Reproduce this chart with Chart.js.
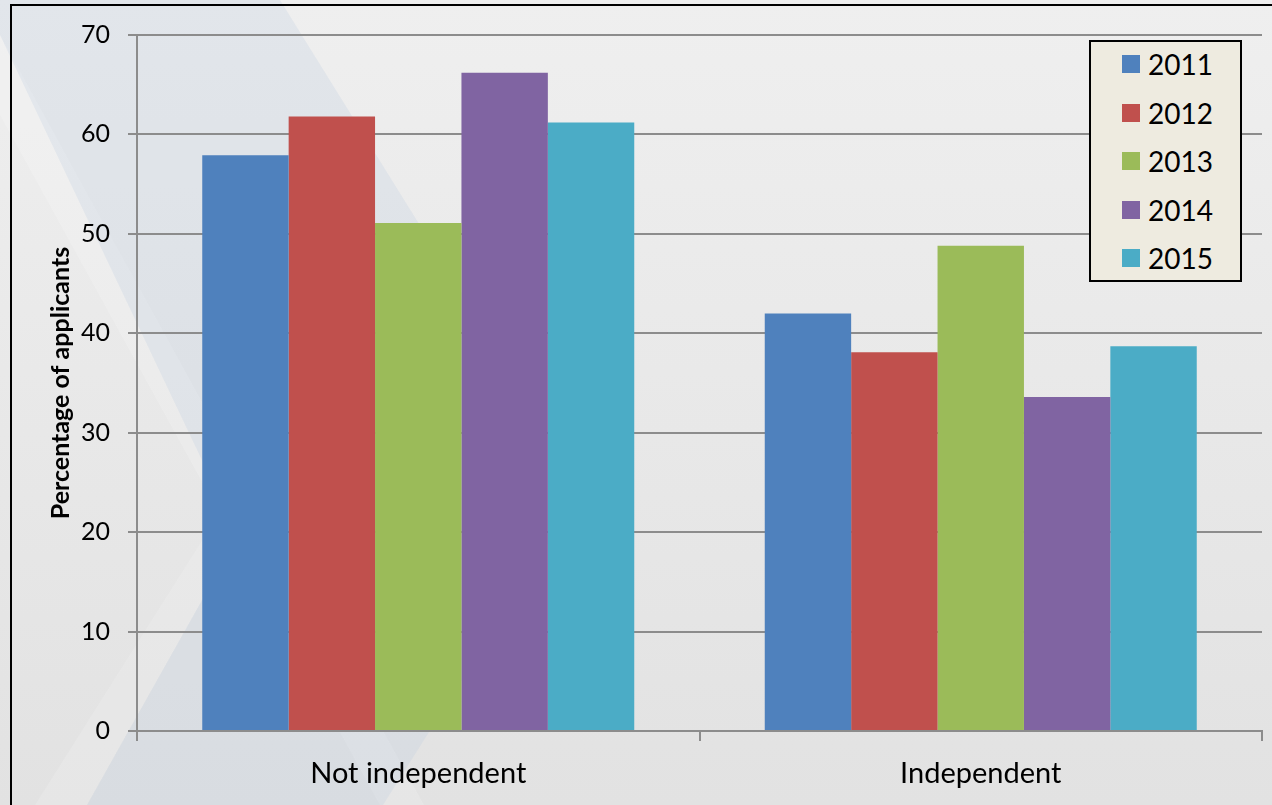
<!DOCTYPE html>
<html>
<head>
<meta charset="utf-8">
<script src="https://cdn.jsdelivr.net/npm/chart.js@4.4.0/dist/chart.umd.min.js"></script>
<style>
  html, body { margin: 0; overflow: hidden; background: #e8e8e8; }
  #wrap { position: relative; width: 1272px; height: 805px; overflow: hidden; }
  #chart { display: block; }
  #legend {
    position: absolute; left: 1089px; top: 40px; width: 149px; height: 238px;
    border: 2px solid #000; background: #eeebe0;
    font-family: Lato, sans-serif; font-size: 28px; color: #000;
  }
  #legend .row { position: absolute; left: 0; height: 48px; display: flex; align-items: center; }
  #legend .box { width: 18px; height: 18px; margin-left: 31px; margin-right: 8px; }
</style>
</head>
<body>
<div id="wrap">
  <canvas id="chart" width="1272" height="805"></canvas>
  <div id="legend"></div>
</div>
<script>
const categories = ['Not independent', 'Independent'];
const years = ['2011', '2012', '2013', '2014', '2015'];
const values2011 = [57.9, 42.0];
const values2012 = [61.8, 38.1];
const values2013 = [51.1, 48.8];
const values2014 = [66.2, 33.6];
const values2015 = [61.2, 38.7];
const yTicks = [0, 10, 20, 30, 40, 50, 60, 70];

const colors = ['#4f81bd', '#c0504d', '#9bbb59', '#8064a2', '#4bacc6'];
const series = [values2011, values2012, values2013, values2014, values2015];

// slide-style background behind the chart
const backdrop = {
  id: 'backdrop',
  beforeDraw(chart) {
    const c = chart.ctx;
    const w = chart.width, h = chart.height;
    c.save();
    const g = c.createLinearGradient(0, 0, 0, h);
    g.addColorStop(0, '#efefef');
    g.addColorStop(1, '#e2e2e2');
    c.fillStyle = g;
    c.fillRect(0, 0, w, h);

    const poly = (pts, fill) => {
      c.beginPath();
      c.moveTo(pts[0][0], pts[0][1]);
      for (let i = 1; i < pts.length; i++) c.lineTo(pts[i][0], pts[i][1]);
      c.closePath();
      c.fillStyle = fill;
      c.fill();
    };
    // faint light stripes on the left
    poly([[0, 35], [0, 115], [380, 805], [424, 805]], 'rgba(255,255,255,0.16)');
    poly([[35, 805], [87, 805], [238, 536], [215, 520]], 'rgba(255,255,255,0.14)');
    // bluish chevron band
    poly([[0, 0], [280, 0], [583, 488], [383, 805], [87, 805], [238, 536], [0, 35]], 'rgba(190,205,225,0.26)');

    // frame
    c.fillStyle = '#000';
    c.fillRect(10, 4, w - 10, 2);
    c.fillRect(10, 4, 2, h - 4);
    c.restore();
  }
};

const ctx = document.getElementById('chart');

new Chart(ctx, {
  type: 'bar',
  data: {
    labels: categories,
    datasets: years.map((y, i) => ({
      label: y,
      data: series[i],
      backgroundColor: colors[i],
      borderWidth: 0,
      barPercentage: 1,
      categoryPercentage: 0.768
    }))
  },
  options: {
    responsive: false,
    devicePixelRatio: 1,
    animation: false,
    layout: { padding: { left: 12, right: 10, top: 35, bottom: 0 } },
    plugins: {
      legend: { display: false },
      tooltip: { enabled: false }
    },
    scales: {
      x: {
        grid: {
          drawOnChartArea: false,
          drawTicks: true,
          tickLength: 10,
          color: '#8c8c8c',
          lineWidth: 2
        },
        border: { color: '#8c8c8c', width: 2 },
        ticks: {
          color: '#000',
          padding: 15,
          font: { family: 'Lato', size: 29 }
        },
        afterFit(scale) { scale.height = 74; }
      },
      y: {
        min: 0,
        max: 70,
        afterBuildTicks(scale) { scale.ticks = yTicks.map(v => ({ value: v })); },
        grid: {
          color: '#8c8c8c',
          lineWidth: 2,
          tickLength: 9
        },
        border: { color: '#8c8c8c', width: 2 },
        ticks: {
          color: '#000',
          padding: 18,
          font: { family: 'Lato', size: 25 }
        },
        title: {
          display: true,
          text: 'Percentage of applicants',
          color: '#000',
          padding: { top: 34, bottom: 0 },
          font: { family: 'Lato', size: 25, weight: 'bold' }
        },
        afterFit(scale) { scale.width = 125; }
      }
    }
  },
  plugins: [backdrop]
});

// legend box, built from the same series
const legendEl = document.getElementById('legend');
years.forEach((y, i) => {
  const row = document.createElement('div');
  row.className = 'row';
  row.style.top = (i * 48.5 - 2) + 'px';
  const box = document.createElement('span');
  box.className = 'box';
  box.style.background = colors[i];
  const txt = document.createElement('span');
  txt.textContent = y;
  row.appendChild(box);
  row.appendChild(txt);
  legendEl.appendChild(row);
});
</script>
</body>
</html>
